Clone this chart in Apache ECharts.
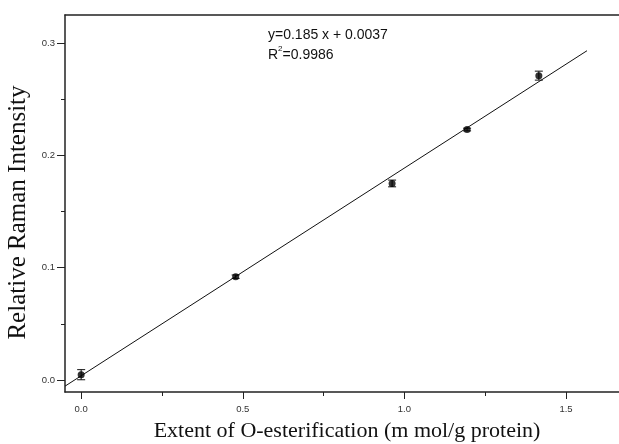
<!DOCTYPE html>
<html>
<head>
<meta charset="utf-8">
<script src="https://cdn.jsdelivr.net/npm/echarts@6/dist/echarts.min.js"></script>
<style>
  html, body { margin: 0; padding: 0; background: #fff; }
  #chart { width: 619px; height: 444px; }
</style>
</head>
<body>
<div id="chart"></div>
<script>
// measured points: x = extent of O-esterification, y = relative Raman intensity
const xValues = [0.0, 0.478, 0.962, 1.194, 1.416]
const yValues = [0.0047, 0.092, 0.175, 0.223, 0.271]
const yErrors = [0.0045, 0.0015, 0.003, 0.0012, 0.004]
// fitted line endpoints as drawn
const fitLine = [[-0.05, -0.0055], [1.565, 0.2932]]
const xMajorTicks = [0, 0.5, 1.0, 1.5]
const xMinorTicks = [0.25, 0.75, 1.25]
const yMajorTicks = [0, 0.1, 0.2, 0.3]
const yMinorTicks = [0.05, 0.15, 0.25]

const axisColor = '#222'
const labelStyle = { fontFamily: 'Liberation Sans', fontSize: 9.5, color: '#333' }

let chart = echarts.init(document.getElementById('chart'))
chart.setOption({
  animation: false,
  backgroundColor: '#fff',
  grid: { left: 65, top: 15, right: 0, bottom: 52, outerBoundsMode: 'none', containLabel: false },
  graphic: [{
    type: 'text',
    left: 268,
    top: 25,
    style: {
      text: 'y=0.185 x + 0.0037\n{base|R}{sup|2}{base|=0.9986}',
      font: '14px Liberation Sans',
      fill: '#111',
      lineHeight: 20,
      rich: {
        base: { fontSize: 14, fontFamily: 'Liberation Sans', color: '#111' },
        sup: { fontSize: 8, fontFamily: 'Liberation Sans', color: '#111', verticalAlign: 'top', padding: [0, 0, 8, 0] }
      }
    }
  }],
  xAxis: [{
    type: 'value',
    min: -0.05,
    max: 1.664,
    name: 'Extent of O-esterification (m mol/g protein)',
    nameLocation: 'middle',
    nameGap: 28,
    nameTextStyle: { fontFamily: 'Liberation Serif', fontSize: 22, color: '#111', padding: [0, 0, 0, 10] },
    axisLine: { show: true, onZero: false, lineStyle: { color: axisColor, width: 1.5 } },
    axisTick: { show: true, customValues: xMajorTicks, length: 7, lineStyle: { color: axisColor } },
    axisLabel: {
      show: true, customValues: xMajorTicks, margin: 12, ...labelStyle,
      formatter: v => v.toFixed(1)
    },
    splitLine: { show: false }
  }, {
    type: 'value',
    position: 'bottom',
    min: -0.05,
    max: 1.664,
    axisLine: { show: false, onZero: false },
    axisTick: { show: true, customValues: xMinorTicks, length: 4, lineStyle: { color: axisColor } },
    axisLabel: { show: false },
    splitLine: { show: false }
  }, {
    type: 'value',
    position: 'top',
    min: -0.05,
    max: 1.664,
    axisLine: { show: true, onZero: false, lineStyle: { color: axisColor, width: 1.5 } },
    axisTick: { show: false },
    axisLabel: { show: false },
    splitLine: { show: false }
  }],
  yAxis: [{
    type: 'value',
    min: -0.0107,
    max: 0.325,
    name: 'Relative Raman Intensity',
    nameLocation: 'middle',
    nameGap: 27,
    nameTextStyle: { fontFamily: 'Liberation Serif', fontSize: 25, color: '#111', padding: [0, 18, 0, 0] },
    axisLine: { show: true, onZero: false, lineStyle: { color: axisColor, width: 1.5 } },
    axisTick: { show: true, customValues: yMajorTicks, length: 8, lineStyle: { color: axisColor } },
    axisLabel: {
      show: true, customValues: yMajorTicks, margin: 10, ...labelStyle,
      formatter: v => v.toFixed(1)
    },
    splitLine: { show: false }
  }, {
    type: 'value',
    position: 'left',
    min: -0.0107,
    max: 0.325,
    axisLine: { show: false, onZero: false },
    axisTick: { show: true, customValues: yMinorTicks, length: 4, lineStyle: { color: axisColor } },
    axisLabel: { show: false },
    splitLine: { show: false }
  }],
  series: [{
    type: 'line',
    data: fitLine,
    symbol: 'none',
    lineStyle: { color: '#111', width: 1 },
    z: 2
  }, {
    type: 'custom',
    data: xValues.map((x, i) => [x, yValues[i] - yErrors[i], yValues[i] + yErrors[i]]),
    renderItem: (params, api) => {
      let lo = api.coord([api.value(0), api.value(1)])
      let hi = api.coord([api.value(0), api.value(2)])
      let cap = 4
      let style = { stroke: '#111', lineWidth: 1 }
      return {
        type: 'group',
        children: [
          { type: 'line', shape: { x1: lo[0], y1: lo[1], x2: hi[0], y2: hi[1] }, style },
          { type: 'line', shape: { x1: lo[0] - cap, y1: lo[1], x2: lo[0] + cap, y2: lo[1] }, style },
          { type: 'line', shape: { x1: hi[0] - cap, y1: hi[1], x2: hi[0] + cap, y2: hi[1] }, style }
        ]
      }
    },
    z: 3
  }, {
    type: 'scatter',
    data: xValues.map((x, i) => [x, yValues[i]]),
    symbol: 'circle',
    symbolSize: 7,
    itemStyle: { color: '#000' },
    z: 4
  }]
})
</script>
</body>
</html>
